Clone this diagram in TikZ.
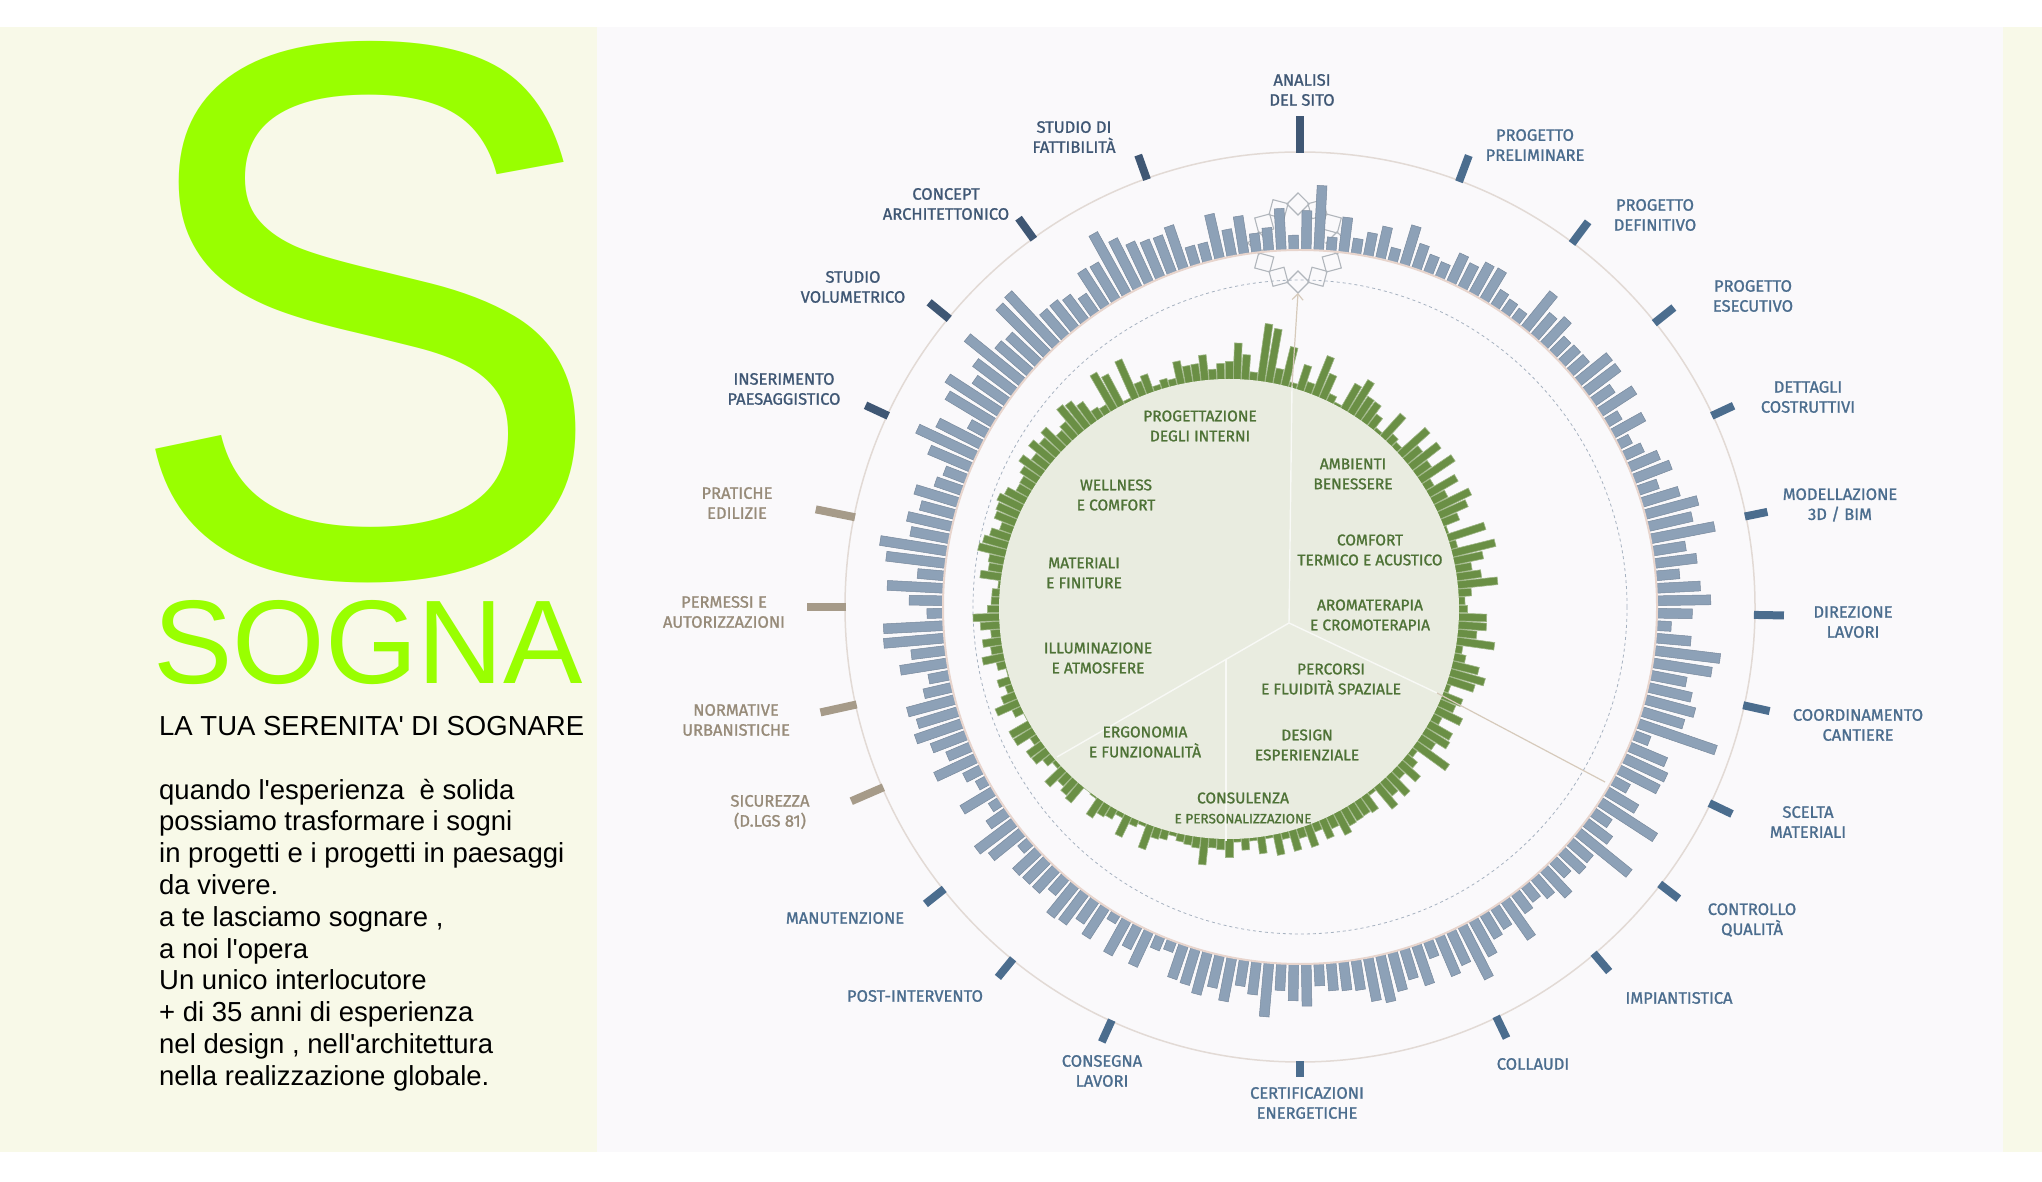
\documentclass[tikz,border=0pt]{standalone}
\usepackage{fontspec}
\newfontfamily\arialfont{Liberation Sans}[Ligatures=TeXOff]
\newfontfamily\labfont{Fira Sans}[FakeBold=1.2]
\usetikzlibrary{arrows.meta}

\definecolor{cream}{HTML}{F8F9E8}
\definecolor{panel}{HTML}{FAF9FB}
\definecolor{lime}{HTML}{99FF00}
\definecolor{barblue}{HTML}{8DA1B7}
\definecolor{bargreen}{HTML}{6A8F45}
\definecolor{disc}{HTML}{E9ECE0}
\definecolor{leafgreen}{HTML}{4E7236}
\definecolor{slate}{HTML}{4B6D8E}
\definecolor{slatedark}{HTML}{3F5774}
\definecolor{taupe}{HTML}{978B79}
\definecolor{taupetick}{HTML}{A69B89}
\definecolor{ringline}{HTML}{E2DAD5}
\definecolor{basering}{HTML}{E8D5CD}
\definecolor{dashline}{HTML}{A6B2C0}
\definecolor{leadtan}{HTML}{D6CABB}

\tikzset{
  bluebar/.style={fill=barblue, draw=barblue!85!black, line width=0.5},
  greenbar/.style={fill=bargreen, draw=bargreen!65!white, line width=0.6},
  tickbar/.style={line width=8, line cap=butt},
  blu/.style={draw=slate, text=slate},
  dkblu/.style={draw=slatedark, text=slatedark},
  brn/.style={draw=taupetick, text=taupe},
  outlab/.style={align=center, inner sep=0, draw=none, font=\labfont\fontsize{16.5}{20}\selectfont},
  inlab/.style={align=center, inner sep=0, text=leafgreen, font=\labfont\fontsize{15.5}{20}\selectfont},
  secline/.style={draw=white!70!disc, line width=1.4},
  leadline/.style={draw=leadtan, line width=1.2},
  gearline/.style={draw=black!25!dashline!60!white, line width=1.1}
}

\begin{document}
\begin{tikzpicture}[x=1pt,y=1pt]
    \useasboundingbox (0,0) rectangle (2042,1181);
    \fill[white] (0,0) rectangle (2042,1181);
    % panels
    \fill[cream] (0,29) rectangle (597,1154);
    \fill[panel] (597,29) rectangle (2003,1154);
    \fill[cream] (2003,29) rectangle (2042,1154);

    % left column
    \node[anchor=base west, inner sep=0, yscale=1.048, text=lime, font=\arialfont\fontsize{730}{730}\selectfont] (bigS) at (122,605) {\smash{S}};
    \node[anchor=base west, inner sep=0, text=lime, font=\arialfont\fontsize{119}{119}\selectfont] (sogna) at (153,497) {\smash{SOGNA}};
    \node[anchor=north west, inner sep=0, align=left, font=\arialfont\fontsize{27.5}{31.8}\selectfont] (blurb) at (159,465)
      {LA TUA SERENITA' DI SOGNARE\\[31.8pt]
       quando l'esperienza\ \ è solida\\
       possiamo trasformare i sogni\\
       in progetti e i progetti in paesaggi\\
       da vivere.\\
       a te lasciamo sognare ,\\
       a noi l'opera\\
       Un unico interlocutore\\
       + di 35 anni di esperienza\\
       nel design , nell'architettura\\
       nella realizzazione globale.};

    % rings
    \coordinate (O) at (1300,574);
    \coordinate (G) at (1229,572);
    \coordinate (Gr) at (1298,938);
    \draw[ringline, line width=1.5] (O) circle (455);
    \draw[dashline, line width=0.8, dash pattern=on 3 off 3] (O) circle (327);
    \foreach \k in {0,...,11}
      \draw[gearline, shift={(Gr)}, rotate=\k*30] (28,0) -- (39,11) -- (50,0) -- (39,-11) -- cycle;

    % outer bars
    \pgfmathsetseed{11}
    \foreach \i in {0,...,179}{
      \pgfmathsetmacro\r{357+(12+45*rnd+35*rnd*rnd)*(0.88+0.2*cos(2*(\i*2+25)))}
      \begin{scope}[shift={(O)}, rotate=\i*2+1]
        \path[bluebar] (357,-4.9) -- (\r,-4.9) -- (\r,4.9) -- (357,4.9) -- cycle;
      \end{scope}
    }
    \draw[basering, line width=2] (O) circle (357);

    % inner bars
    \foreach \i in {0,...,179}{
      \pgfmathsetmacro\r{226+(5+34*rnd+24*rnd*rnd*rnd)*(0.9+0.25*sin(\i*2+20))}
      \begin{scope}[shift={(G)}, rotate=\i*2]
        \path[greenbar] (220,-3.8) -- (\r,-3.8) -- (\r,3.8) -- (220,3.8) -- cycle;
      \end{scope}
    }
    \fill[disc] (G) circle (230);

    % sectors
    \coordinate (S) at (1289,558);
    \draw[secline] (S) -- (1292,795);
    \draw[leadline, -{Straight Barb[length=6, width=11]}] (1292,795) -- (1298,888);
    \draw[secline] (S) -- (1057,424);
    \draw[secline] (1226,522) -- (1226,340);
    \draw[secline] (S) -- (1437,488);
    \draw[leadline] (1437,488) -- (1605,399);

    % phases round the ring
    \foreach \a/\len/\x/\y/\txt/\s [count=\n] in {
      90/37/1302/1091/{ANALISI\\DEL SITO}/dkblu,
      69.5/28/1535/1036/{PROGETTO\\PRELIMINARE}/blu,
      53.2/27/1655/966/{PROGETTO\\DEFINITIVO}/blu,
      38.7/25/1753/885/{PROGETTO\\ESECUTIVO}/blu,
      24.9/24/1808/784/{DETTAGLI\\COSTRUTTIVI}/blu,
      11.5/23/1840/676/{MODELLAZIONE\\3D / BIM}/blu,
      -1/30/1853/559/{DIREZIONE\\LAVORI}/blu,
      -12.5/27/1858/456/{COORDINAMENTO\\CANTIERE}/blu,
      -25.6/25/1808/359/{SCELTA\\MATERIALI}/blu,
      -37.6/24/1752/261/{CONTROLLO\\QUALITÀ}/blu,
      -49.7/24/1679/183/{IMPIANTISTICA}/blu,
      -64.4/24/1533/117/{COLLAUDI}/blu,
      -90/16/1307/78/{CERTIFICAZIONI\\ENERGETICHE}/blu,
      -114.5/24/1102/110/{CONSEGNA\\LAVORI}/blu,
      -129.2/24/915/185/{POST-INTERVENTO}/blu,
      -141.6/24/845/263/{MANUTENZIONE}/blu,
      -156.6/35/770/369/{SICUREZZA\\(D.LGS 81)}/brn,
      -167.6/37/736/461/{NORMATIVE\\URBANISTICHE}/brn,
      180/39/724/569/{PERMESSI E\\AUTORIZZAZIONI}/brn,
      168.6/40/737/678/{PRATICHE\\EDILIZIE}/brn,
      155.1/25/784/792/{INSERIMENTO\\PAESAGGISTICO}/dkblu,
      140.6/26/853/894/{STUDIO\\VOLUMETRICO}/dkblu,
      125.9/26/946/977/{CONCEPT\\ARCHITETTONICO}/dkblu,
      109.7/26/1074/1044/{STUDIO DI\\FATTIBILITÀ}/dkblu}
    {
      \draw[tickbar, \s] (O) ++(\a:454) -- ++(\a:\len);
      \node[outlab, \s, draw=none] (phase\n) at (\x,\y) {\txt};
    }

    % services inside the disc
    \node[inlab] (interni) at (1200,755) {PROGETTAZIONE\\DEGLI INTERNI};
    \node[inlab] (ambienti) at (1353,707) {AMBIENTI\\BENESSERE};
    \node[inlab] (wellness) at (1116,686) {WELLNESS\\E COMFORT};
    \node[inlab] (comfort) at (1370,631) {COMFORT\\TERMICO E ACUSTICO};
    \node[inlab] (materiali) at (1084,608) {MATERIALI\\E FINITURE};
    \node[inlab] (aroma) at (1370,566) {AROMATERAPIA\\E CROMOTERAPIA};
    \node[inlab] (luce) at (1098,523) {ILLUMINAZIONE\\E ATMOSFERE};
    \node[inlab] (percorsi) at (1331,502) {PERCORSI\\E FLUIDITÀ SPAZIALE};
    \node[inlab] (ergonomia) at (1145,439) {ERGONOMIA\\E FUNZIONALITÀ};
    \node[inlab] (design) at (1307,436) {DESIGN\\ESPERIENZIALE};
    \node[inlab] (consulenza) at (1243,373) {CONSULENZA\\{\fontsize{13.5}{20}\selectfont E PERSONALIZZAZIONE}};
\end{tikzpicture}
\end{document}
